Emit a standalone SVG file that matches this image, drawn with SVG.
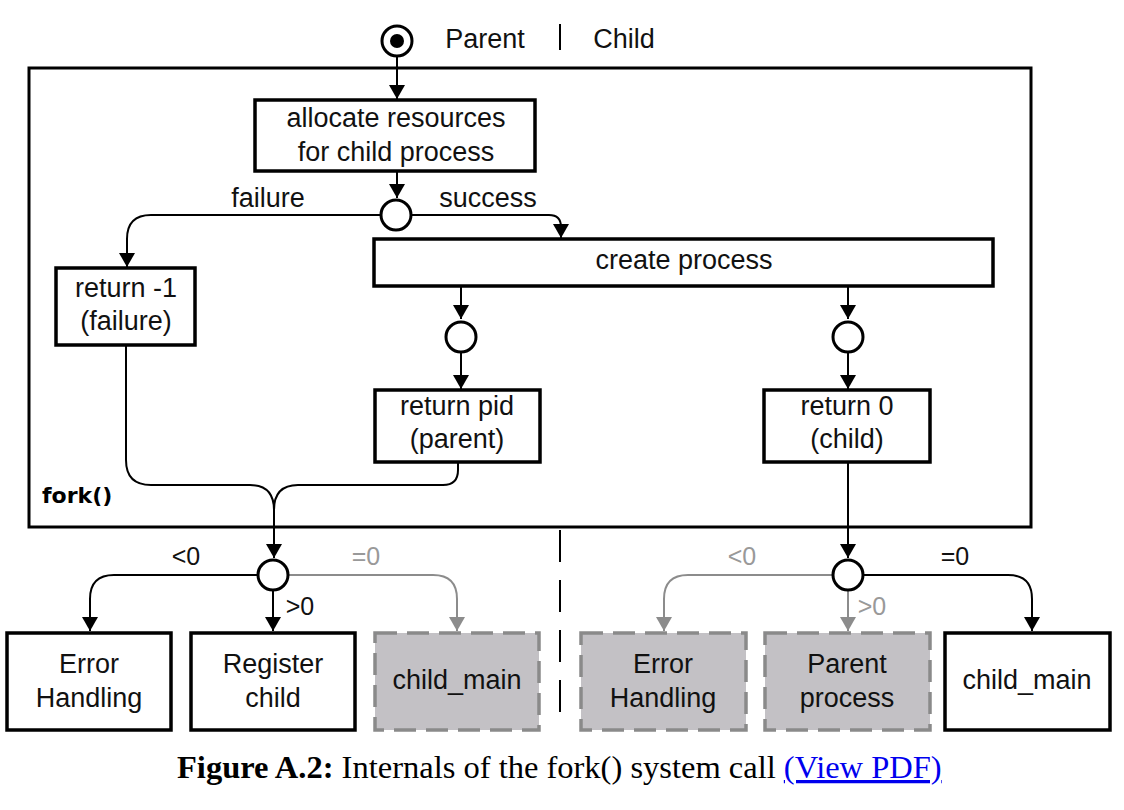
<svg xmlns="http://www.w3.org/2000/svg" width="1124" height="810" viewBox="0 0 1124 810">
<style>
.t{font-family:"Liberation Sans",Arial,sans-serif;font-size:27px;fill:#111;text-anchor:middle}
.lbl{font-family:"Liberation Sans",Arial,sans-serif;font-size:25px;fill:#111;text-anchor:middle}
.g{fill:#999}
.box{fill:#fff;stroke:#000;stroke-width:3.5}
.gbox{fill:#c3c1c5;stroke:#8a8a8a;stroke-width:3.5;stroke-dasharray:22 10}
.dec{fill:#fff;stroke:#000;stroke-width:3}
.c{fill:none;stroke:#000;stroke-width:2;marker-end:url(#ab)}
.cg{fill:none;stroke:#8c8c8c;stroke-width:2;marker-end:url(#ag)}
.ln{fill:none;stroke:#000;stroke-width:2}
.cap{font-family:"Liberation Serif","Times New Roman",serif;font-size:32.5px;fill:#000}
</style>
<defs>
<marker id="ab" markerUnits="userSpaceOnUse" markerWidth="18" markerHeight="18" viewBox="-1 -9 16 18" refX="14" refY="0" orient="auto">
<path d="M0,-8 L14,0 L0,8 Z" fill="#000"/>
</marker>
<marker id="ag" markerUnits="userSpaceOnUse" markerWidth="18" markerHeight="18" viewBox="-1 -9 16 18" refX="14" refY="0" orient="auto">
<path d="M0,-8 L14,0 L0,8 Z" fill="#8c8c8c"/>
</marker>
</defs>
<rect width="1124" height="810" fill="#fff"/>

<g id="header">
<text x="485" y="48" class="t">Parent</text>
<line x1="560" y1="24" x2="560" y2="50" stroke="#000" stroke-width="2"/>
<text x="624" y="48" class="t">Child</text>
<line x1="560" y1="530" x2="560" y2="716" stroke="#000" stroke-width="2" stroke-dasharray="32 18"/>
</g>

<g id="fork">
<rect x="29" y="68" width="1002" height="459" fill="none" stroke="#000" stroke-width="3"/>
<text x="42" y="503" font-family="DejaVu Sans,sans-serif" font-weight="bold" font-size="22" fill="#000">fork()</text>
</g>

<g id="connectors">
<path class="c" d="M397,57 V99"/>
<path class="c" d="M397,172 V198"/>
<path class="c" d="M381,215 H151 Q127,215 127,239 V267"/>
<path class="c" d="M411,215 H549 Q561,215 561,227 V238"/>
<path class="c" d="M461,287 V319"/>
<path class="c" d="M461,353 V389"/>
<path class="c" d="M848,287 V319"/>
<path class="c" d="M848,353 V389"/>
<path class="ln" d="M126,346 V460 Q126,485 151,485 H250 Q274,485 274,510"/>
<path class="ln" d="M458,463 V470 Q458,485 443,485 H298 Q274,485 274,510"/>
<path class="c" d="M274,510 V558"/>
<path class="c" d="M848,463 V558"/>
<path class="c" d="M258,575 H114 Q90,575 90,599 V631"/>
<path class="c" d="M273,591 V631"/>
<path class="cg" d="M289,575 H433 Q457,575 457,599 V631"/>
<path class="cg" d="M832,575 H688 Q664,575 664,599 V631"/>
<path class="cg" d="M848,591 V631"/>
<path class="c" d="M864,575 H1008 Q1032,575 1032,599 V631"/>
<text x="268" y="207" class="t">failure</text>
<text x="488" y="207" class="t">success</text>
<text x="186" y="565" class="lbl">&lt;0</text>
<text x="300" y="615" class="lbl">&gt;0</text>
<text x="366" y="565" class="lbl g">=0</text>
<text x="742" y="565" class="lbl g">&lt;0</text>
<text x="872" y="615" class="lbl g">&gt;0</text>
<text x="955" y="565" class="lbl">=0</text>
</g>

<g id="start">
<circle cx="397" cy="41" r="15" fill="#fff" stroke="#000" stroke-width="3"/>
<circle cx="397" cy="41" r="7" fill="#000"/>
</g>

<g id="allocate">
<rect class="box" x="255" y="100" width="280" height="71"/>
<text x="396" y="127" class="t">allocate resources</text>
<text x="396" y="161" class="t">for child process</text>
</g>

<g id="decision1"><circle class="dec" cx="396" cy="215" r="15"/></g>

<g id="return_fail">
<rect class="box" x="56" y="268" width="139" height="77"/>
<text x="126" y="297" class="t">return -1</text>
<text x="126" y="330" class="t">(failure)</text>
</g>

<g id="create">
<rect class="box" x="374" y="239" width="619" height="47"/>
<text x="684" y="269" class="t">create process</text>
</g>

<g id="fork_parent"><circle class="dec" cx="461" cy="337" r="15"/></g>
<g id="fork_child"><circle class="dec" cx="848" cy="337" r="15"/></g>

<g id="return_pid">
<rect class="box" x="375" y="390" width="165" height="72"/>
<text x="457" y="415" class="t">return pid</text>
<text x="457" y="448" class="t">(parent)</text>
</g>

<g id="return_zero">
<rect class="box" x="764" y="390" width="166" height="72"/>
<text x="847" y="415" class="t">return 0</text>
<text x="847" y="448" class="t">(child)</text>
</g>

<g id="decision_parent"><circle class="dec" cx="273" cy="575" r="15"/></g>
<g id="decision_child"><circle class="dec" cx="848" cy="575" r="15"/></g>

<g id="p_error">
<rect class="box" x="7" y="633" width="164" height="97"/>
<text x="89" y="673" class="t">Error</text>
<text x="89" y="707" class="t">Handling</text>
</g>
<g id="p_register">
<rect class="box" x="191" y="633" width="164" height="97"/>
<text x="273" y="673" class="t">Register</text>
<text x="273" y="707" class="t">child</text>
</g>
<g id="p_childmain">
<rect class="gbox" x="375" y="633" width="164" height="97"/>
<text x="457" y="689" class="t">child_main</text>
</g>
<g id="c_error">
<rect class="gbox" x="581" y="633" width="165" height="97"/>
<text x="663" y="673" class="t">Error</text>
<text x="663" y="707" class="t">Handling</text>
</g>
<g id="c_parent">
<rect class="gbox" x="765" y="633" width="165" height="97"/>
<text x="847" y="673" class="t">Parent</text>
<text x="847" y="707" class="t">process</text>
</g>
<g id="c_childmain">
<rect class="box" x="945" y="633" width="165" height="97"/>
<text x="1027" y="689" class="t">child_main</text>
</g>

<g id="caption">
<text x="177" y="778" class="cap"><tspan font-weight="bold">Figure A.2:</tspan> Internals of the fork() system call <tspan fill="#0000ee" text-decoration="underline">(View PDF)</tspan></text>
</g>
</svg>
